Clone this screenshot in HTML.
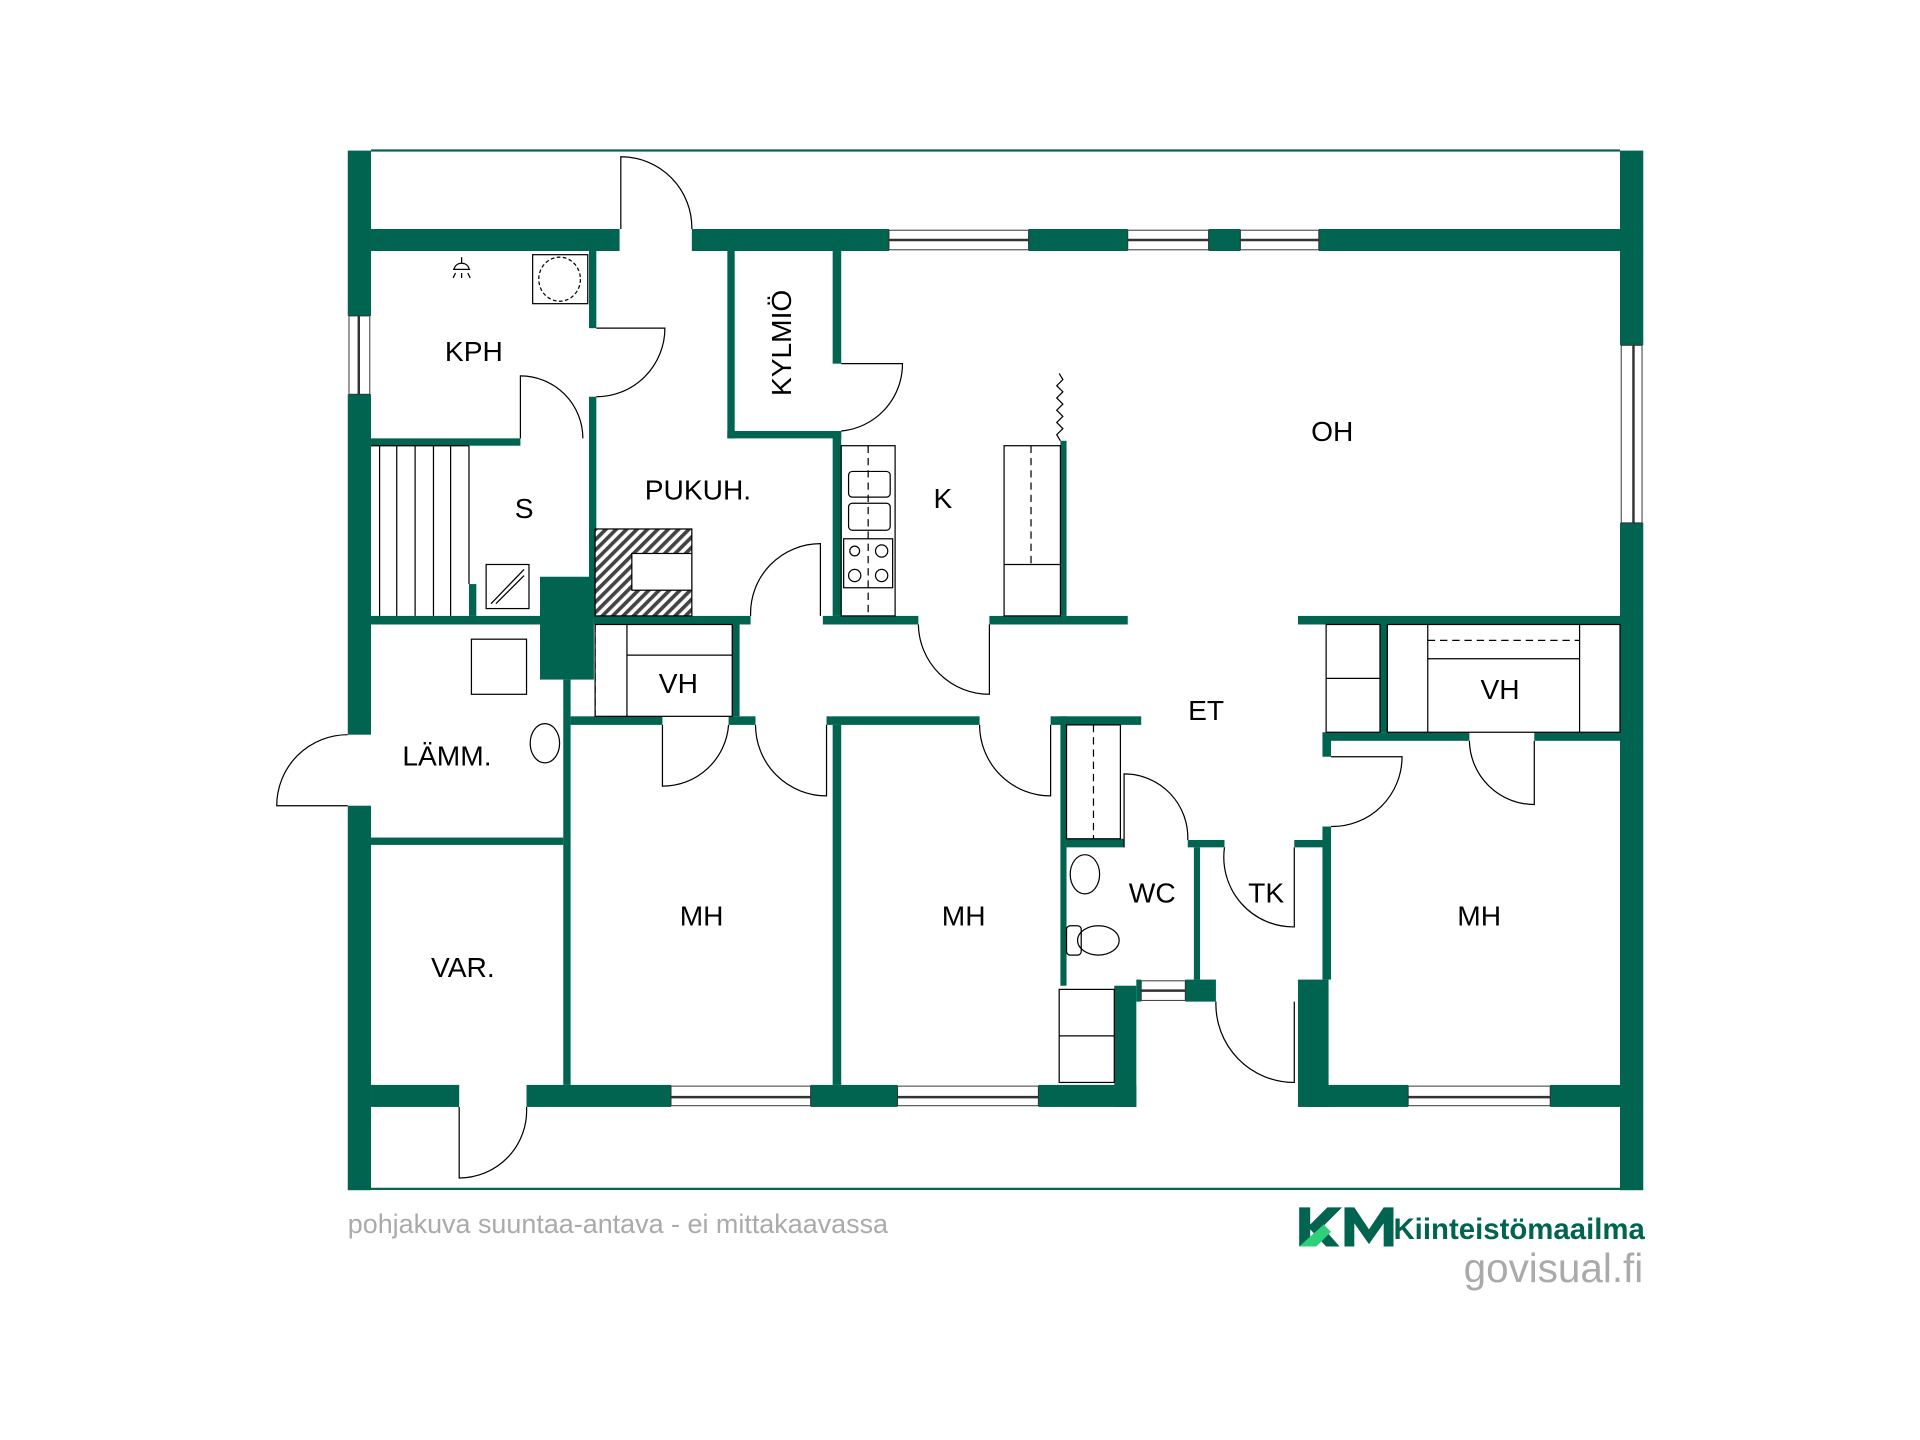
<!DOCTYPE html>
<html><head><meta charset="utf-8"><style>
html,body{margin:0;padding:0;background:#fff;width:1920px;height:1440px;overflow:hidden}
svg{display:block}
text{font-family:"Liberation Sans",sans-serif}
</style></head><body>
<svg width="1920" height="1440" viewBox="0 0 1568 1176" preserveAspectRatio="none" xmlns="http://www.w3.org/2000/svg">
<defs>
<pattern id="h" width="6" height="6" patternUnits="userSpaceOnUse" patternTransform="rotate(45)">
<rect width="6" height="6" fill="#fff"/><rect width="3" height="6" fill="#444"/></pattern>
</defs>
<g fill="#006450">
<rect x="303" y="122" width="1020" height="1.8"/>
<rect x="303" y="970" width="1020" height="1.8"/>
<rect x="284" y="123" width="19" height="135"/>
<rect x="284" y="322" width="19" height="278"/>
<rect x="284" y="658" width="19" height="314"/>
<rect x="1323" y="123" width="19" height="159"/>
<rect x="1323" y="427" width="19" height="545"/>
<rect x="303" y="187" width="203" height="18"/>
<rect x="565" y="187" width="161" height="18"/>
<rect x="840" y="187" width="81" height="18"/>
<rect x="987" y="187" width="26" height="18"/>
<rect x="1077" y="187" width="246" height="18"/>
<rect x="303" y="886" width="72" height="18"/>
<rect x="430" y="886" width="118" height="18"/>
<rect x="662" y="886" width="71" height="18"/>
<rect x="848" y="886" width="80" height="18"/>
<rect x="910" y="805" width="18" height="99"/>
<rect x="928" y="800" width="4" height="18"/>
<rect x="968" y="800" width="25" height="18"/>
<rect x="1060" y="800" width="25" height="104"/>
<rect x="1068" y="886" width="82" height="18"/>
<rect x="1266" y="886" width="57" height="18"/>
<rect x="303" y="358" width="122" height="6"/>
<rect x="481" y="205" width="6" height="63"/>
<rect x="481" y="324" width="6" height="181"/>
<rect x="383" y="477" width="6" height="26"/>
<rect x="441" y="471" width="44" height="84"/>
<rect x="594" y="205" width="6" height="153"/>
<rect x="594" y="352" width="93" height="6"/>
<rect x="680" y="205" width="7" height="92"/>
<rect x="680" y="352" width="7" height="151"/>
<rect x="866" y="360" width="5" height="143"/>
<rect x="303" y="503" width="138" height="7"/>
<rect x="485" y="503" width="128" height="7"/>
<rect x="672" y="503" width="78" height="7"/>
<rect x="808" y="503" width="113" height="7"/>
<rect x="1060" y="503" width="263" height="7"/>
<rect x="460" y="555" width="6" height="331"/>
<rect x="598" y="510" width="6" height="75"/>
<rect x="466" y="585" width="75" height="7"/>
<rect x="595" y="585" width="22" height="7"/>
<rect x="675" y="585" width="125" height="7"/>
<rect x="858" y="585" width="74" height="7"/>
<rect x="680" y="592" width="7" height="294"/>
<rect x="303" y="684" width="157" height="6"/>
<rect x="866" y="585" width="5" height="220"/>
<rect x="871" y="685" width="47" height="7"/>
<rect x="970" y="686" width="30" height="6"/>
<rect x="975" y="692" width="5" height="108"/>
<rect x="1057" y="686" width="28" height="6"/>
<rect x="1080" y="675" width="7" height="125"/>
<rect x="1080" y="598" width="7" height="20"/>
<rect x="1127" y="510" width="6" height="88"/>
<rect x="1087" y="598" width="113" height="7"/>
<rect x="1253" y="598" width="70" height="7"/>
</g>
<g fill="#fff" stroke="#333" stroke-width="0.8">
<rect x="726" y="188" width="114" height="16"/><line x1="726" y1="196" x2="840" y2="196" stroke-width="2"/>
<rect x="921" y="188" width="66" height="16"/><line x1="921" y1="196" x2="987" y2="196" stroke-width="2"/>
<rect x="1013" y="188" width="64" height="16"/><line x1="1013" y1="196" x2="1077" y2="196" stroke-width="2"/>
<rect x="548" y="887" width="114" height="16"/><line x1="548" y1="896" x2="662" y2="896" stroke-width="2"/>
<rect x="733" y="887" width="115" height="16"/><line x1="733" y1="896" x2="848" y2="896" stroke-width="2"/>
<rect x="1150" y="887" width="116" height="16"/><line x1="1150" y1="896" x2="1266" y2="896" stroke-width="2"/>
<rect x="932" y="801" width="36" height="16"/><line x1="932" y1="809" x2="968" y2="809" stroke-width="2"/>
<rect x="285" y="258" width="17" height="64"/><line x1="293" y1="258" x2="293" y2="322" stroke-width="2"/>
<rect x="1324" y="282" width="17" height="145"/><line x1="1334" y1="282" x2="1334" y2="427" stroke-width="2"/>
</g>
<g fill="none" stroke="#000" stroke-width="1">
<path d="M507 187V128A58 58 0 0 1 565 187"/>
<path d="M487 268H543A56 56 0 0 1 487 324"/>
<path d="M425 358V307A51 51 0 0 1 476 358"/>
<path d="M687 297H737A55 55 0 0 1 687 352"/>
<path d="M670 503V444A57 57 0 0 0 613 503"/>
<path d="M808 510V567A58 58 0 0 1 750 510"/>
<path d="M541 592V642A54 54 0 0 0 595 592"/>
<path d="M675 592V650A58 58 0 0 1 617 592"/>
<path d="M858 592V650A58 58 0 0 1 800 592"/>
<path d="M284 658H226A58 58 0 0 1 284 600"/>
<path d="M375 904V962A55 55 0 0 0 430 904"/>
<path d="M918 692V632A52 52 0 0 1 970 686"/>
<path d="M1057 692V757A57 57 0 0 1 1000 692"/>
<path d="M1057 818V884A64 64 0 0 1 993 818"/>
<path d="M1087 618H1145A57 57 0 0 1 1087 675"/>
<path d="M1253 605V657A53 53 0 0 1 1200 605"/>
<path d="M866 360 l-3 -5 l5 -5 l-5 -5 l5 -5 l-5 -5 l5 -5 l-5 -5 l5 -5 l-5 -5 l5 -5 l-3 -5"/>
<rect x="435" y="208" width="45" height="40"/>
<ellipse cx="457" cy="228" rx="17" ry="18" stroke-dasharray="3,2"/>
<path d="M370 220h14M377 210v5M371 220a6 5 0 0 1 12 0M372 223l-2 4M377 223v4M382 223l2 4"/>
<line x1="310" y1="364" x2="310" y2="503"/><line x1="324" y1="364" x2="324" y2="503"/>
<line x1="339" y1="364" x2="339" y2="503"/><line x1="354" y1="364" x2="354" y2="503"/>
<line x1="368" y1="364" x2="368" y2="503"/><line x1="383" y1="364" x2="383" y2="477"/>
<line x1="303" y1="364" x2="383" y2="364"/>
<rect x="397" y="461" width="35" height="36"/>
<path d="M401 493L428 465M405 493L428 470"/>
<rect x="486" y="432" width="79" height="71" fill="url(#h)"/>
<rect x="516" y="452" width="49" height="30" fill="#fff"/>
<rect x="687" y="364" width="44" height="139"/>
<line x1="709" y1="364" x2="709" y2="503" stroke-dasharray="6,4"/>
<rect x="693" y="385" width="34" height="21" rx="3"/><rect x="693" y="411" width="34" height="22" rx="3"/>
<rect x="689" y="440" width="40" height="40"/>
<circle cx="698" cy="450" r="4"/><circle cx="720" cy="450" r="5"/><circle cx="698" cy="470" r="5"/><circle cx="720" cy="470" r="5"/>
<rect x="820" y="364" width="46" height="139"/><line x1="842" y1="364" x2="842" y2="461" stroke-dasharray="6,4"/><line x1="820" y1="461" x2="866" y2="461"/>
<rect x="486" y="510" width="112" height="75"/><line x1="512" y1="510" x2="512" y2="585"/>
<line x1="486" y1="510" x2="486" y2="585" stroke-dasharray="6,4"/><line x1="512" y1="535" x2="598" y2="535"/>
<rect x="385" y="522" width="45" height="45"/>
<ellipse cx="445" cy="607" rx="12" ry="16"/>
<rect x="871" y="592" width="44" height="93"/><line x1="893" y1="592" x2="893" y2="685" stroke-dasharray="6,4"/>
<ellipse cx="886" cy="714" rx="12" ry="16"/>
<ellipse cx="897" cy="768" rx="17" ry="12"/><rect x="871" y="756" width="12" height="24" rx="3"/>
<rect x="865" y="808" width="45" height="76"/><line x1="865" y1="846" x2="910" y2="846"/>
<rect x="1083" y="510" width="44" height="88"/><line x1="1083" y1="554" x2="1127" y2="554"/>
<rect x="1133" y="510" width="190" height="88"/><line x1="1166" y1="510" x2="1166" y2="598"/><line x1="1290" y1="510" x2="1290" y2="598"/>
<line x1="1166" y1="523" x2="1290" y2="523" stroke-dasharray="6,4"/><line x1="1166" y1="538" x2="1290" y2="538"/>
</g>
<g font-size="23" fill="#000" text-anchor="middle">
<text x="387" y="295">KPH</text>
<text x="428" y="423">S</text>
<text x="570" y="408">PUKUH.</text>
<text transform="translate(646,280) rotate(-90)">KYLMIÖ</text>
<text x="770" y="415">K</text>
<text x="1088" y="360">OH</text>
<text x="985" y="588">ET</text>
<text x="554" y="566">VH</text>
<text x="365" y="625">LÄMM.</text>
<text x="378" y="798">VAR.</text>
<text x="573" y="756">MH</text>
<text x="787" y="756">MH</text>
<text x="941" y="737">WC</text>
<text x="1034" y="737">TK</text>
<text x="1225" y="571">VH</text>
<text x="1208" y="756">MH</text>
</g>
<text x="284" y="1007" font-size="22" fill="#aaa">pohjakuva suuntaa-antava - ei mittakaavassa</text>
<path d="M1061 986h9v14l14-14h12l-16 16 14 16h-11l-13-14v14h-9z" fill="#006450"/>
<path d="M1061 1018l20-18 6 6-12 12z" fill="#2fd07a"/>
<path d="M1098 1018v-32h8l12 18 12-18h8v32h-8v-19l-12 17-12-17v19z" fill="#006450"/>
<text x="1138" y="1012" font-size="24" font-weight="bold" fill="#006450">Kiinteistömaailma</text>
<text x="1342" y="1047" font-size="33" fill="#aaa" text-anchor="end">govisual.fi</text>
</svg>
</body></html>
